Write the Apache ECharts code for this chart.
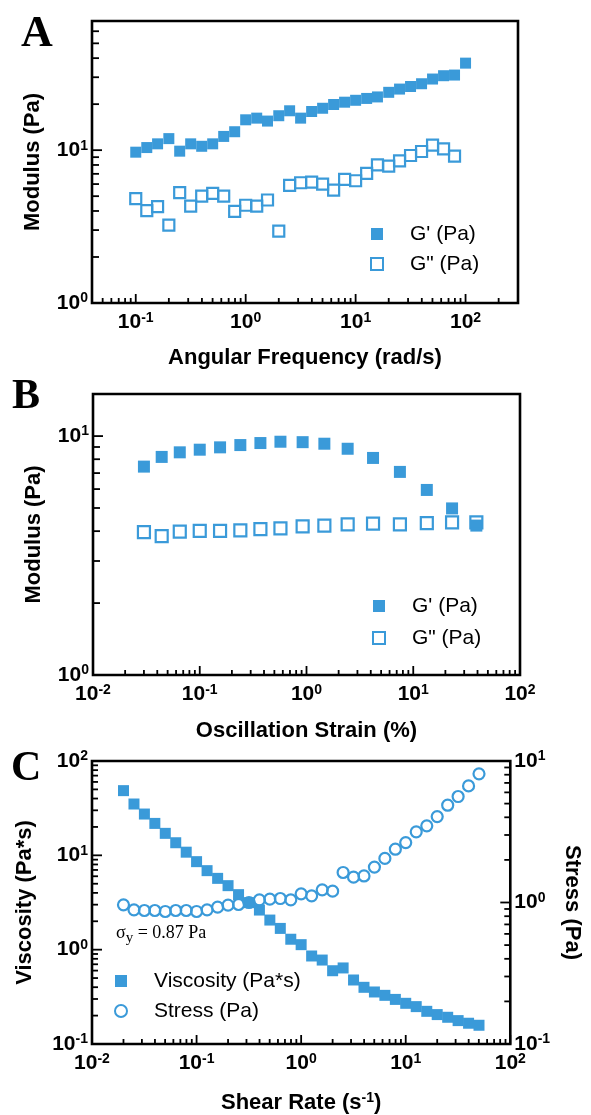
<!DOCTYPE html>
<html><head><meta charset="utf-8">
<script src="https://cdn.jsdelivr.net/npm/echarts@6/dist/echarts.min.js"></script>
<style>html,body{margin:0;padding:0;background:#fff}#c{width:591px;height:1115px}</style>
</head><body><div id="c"></div>
<script>
// ---------- DATA ----------
// Panel A: frequency sweep
const freqA = [0.1,0.126,0.158,0.2,0.251,0.316,0.398,0.501,0.631,0.794,1.0,1.26,1.58,2.0,2.51,3.16,3.98,5.01,6.31,7.94,10.0,12.6,15.8,20.0,25.1,31.6,39.8,50.1,63.1,79.4,100];
const gPrimeA = [9.7,10.4,11.0,11.9,9.85,11.0,10.6,11.0,12.3,13.2,15.8,16.2,15.5,16.8,18.1,16.2,17.9,18.8,19.9,20.6,21.2,21.8,22.3,23.9,25.1,26.1,27.2,29.2,30.7,31.0,37.1];
const gDoubleA = [4.82,4.02,4.27,3.23,5.27,4.31,5.01,5.22,5.01,3.98,4.36,4.31,4.72,2.95,5.89,6.12,6.18,6.0,5.48,6.44,6.31,7.05,8.02,7.86,8.52,9.23,9.8,10.8,10.2,9.14];
// Panel B: strain sweep
const strainB = [0.03,0.044,0.065,0.1,0.155,0.24,0.37,0.57,0.92,1.47,2.43,4.2,7.5,13.4,23.1,39];
const gPrimeB = [7.45,8.18,8.55,8.77,8.97,9.17,9.35,9.47,9.43,9.29,8.85,8.1,7.08,5.95,4.98,4.22];
const gDoubleB = [3.96,3.81,3.98,4.01,4.01,4.03,4.08,4.11,4.19,4.22,4.27,4.30,4.27,4.32,4.35,4.35];
// Panel C: flow sweep
const rateC = [0.02,0.0252,0.0317,0.0399,0.0502,0.0632,0.0796,0.1,0.126,0.159,0.2,0.252,0.317,0.399,0.502,0.632,0.796,1.0,1.26,1.59,2.0,2.52,3.17,3.99,5.02,6.32,7.96,10.0,12.6,15.9,20.0,25.2,31.7,39.9,50.2];
const viscC = [48.5,35.0,27.4,21.8,17.1,13.6,10.8,8.57,6.88,5.70,4.77,3.83,3.15,2.63,2.06,1.68,1.29,1.13,0.857,0.776,0.598,0.64,0.477,0.399,0.356,0.328,0.297,0.27,0.249,0.222,0.205,0.192,0.177,0.166,0.158];
const stressC = [0.963,0.888,0.878,0.878,0.864,0.878,0.878,0.864,0.888,0.927,0.957,0.968,1.0,1.044,1.056,1.067,1.044,1.151,1.115,1.229,1.202,1.63,1.51,1.54,1.78,2.05,2.38,2.65,3.16,3.48,4.05,4.87,5.61,6.67,8.11];
// Axis ranges
const xRangeA = [0.04, 300], yRangeA = [1, 70];
const xRangeB = [0.01, 100], yRangeB = [1, 15];
const xRangeC = [0.01, 100], yRangeC = [0.1, 100], y2RangeC = [0.1, 10];
// Texts
const panelLetters = ['A', 'B', 'C'];
const legendA = ["G' (Pa)", 'G" (Pa)'];
const legendC = ['Viscosity (Pa*s)', 'Stress (Pa)'];

// ---------- STYLE ----------
const FONT = "'Liberation Sans', Arial, Helvetica, sans-serif";
const SERIF = "'Liberation Serif', 'Times New Roman', serif";
const BLUE = '#3A9AD9';

function powLabel(v) {
  const e = Math.log10(v), r = Math.round(e);
  if (Math.abs(e - r) > 1e-6) return '';
  return '{b|10}{s|' + r + '}';
}
const richTick = {
  b: {fontFamily: FONT, fontWeight: 'bold', fontSize: 21, color: '#000'},
  s: {fontFamily: FONT, fontWeight: 'bold', fontSize: 14, color: '#000', padding: [0, 0, 9, 0]}
};
function decadeTicks(min, max) {
  const major = [], minor = [];
  for (let e = Math.floor(Math.log10(min)); e <= Math.ceil(Math.log10(max)); e++) {
    for (let k = 1; k < 10; k++) {
      const v = k * Math.pow(10, e);
      if (v < min * 0.9999 || v > max * 1.0001) continue;
      (k === 1 ? major : minor).push(v);
    }
  }
  return {major, minor};
}
function tickSeries(xi, yi, dir, edge, values, len) {
  return {
    type: 'custom', xAxisIndex: xi, yAxisIndex: yi, silent: true, clip: false, z: 5,
    data: values.map(v => dir === 'bottom' ? [v, edge] : [edge, v]),
    renderItem: (params, api) => {
      const p = api.coord([api.value(0), api.value(1)]);
      let x2 = p[0], y2 = p[1];
      if (dir === 'bottom') y2 -= len; else if (dir === 'left') x2 += len; else x2 -= len;
      return {type: 'line', shape: {x1: p[0], y1: p[1], x2: x2, y2: y2}, style: {stroke: '#000', lineWidth: 1.8}};
    }
  };
}
function axisTicks(xi, yi, dir, edge, range, majLen, minLen) {
  const t = decadeTicks(range[0], range[1]);
  return [tickSeries(xi, yi, dir, edge, t.major, majLen), tickSeries(xi, yi, dir, edge, t.minor, minLen)];
}
const TITLE = 22;
function xAxisDef(gi, range, name, gap) {
  return {
    type: 'log', logBase: 10, gridIndex: gi, min: range[0], max: range[1],
    axisLine: {show: false}, axisTick: {show: false}, splitLine: {show: false},
    axisLabel: {formatter: powLabel, rich: richTick, margin: 8, showMinLabel: true, showMaxLabel: true},
    name: name, nameLocation: 'middle', nameGap: gap,
    nameTextStyle: {fontFamily: FONT, fontWeight: 'bold', fontSize: TITLE, color: '#000',
      rich: {t: {fontFamily: FONT, fontWeight: 'bold', fontSize: TITLE, color: '#000'},
             s: {fontFamily: FONT, fontWeight: 'bold', fontSize: 14, color: '#000', padding: [0, 0, 10, 0]}}}
  };
}
function yAxisDef(gi, range, name, gap, pos) {
  return {
    type: 'log', logBase: 10, gridIndex: gi, min: range[0], max: range[1], position: pos || 'left',
    axisLine: {show: false}, axisTick: {show: false}, splitLine: {show: false},
    axisLabel: {formatter: powLabel, rich: richTick, margin: 4, showMinLabel: true, showMaxLabel: true},
    name: name, nameLocation: 'middle', nameGap: gap, nameRotate: pos === 'right' ? -90 : 90,
    nameTextStyle: {fontFamily: FONT, fontWeight: 'bold', fontSize: TITLE, color: '#000'}
  };
}
const filledSq = (name, xs, ys, xi, yi, size) => ({
  name: name, type: 'scatter', xAxisIndex: xi, yAxisIndex: yi, symbol: 'rect', symbolSize: size,
  data: xs.slice(0, ys.length).map((x, i) => [x, ys[i]]), itemStyle: {color: BLUE, opacity: 1}, z: 3
});
const openSq = (name, xs, ys, xi, yi, size) => ({
  name: name, type: 'scatter', xAxisIndex: xi, yAxisIndex: yi, symbol: 'rect', symbolSize: size,
  data: xs.slice(0, ys.length).map((x, i) => [x, ys[i]]),
  itemStyle: {color: 'rgba(255,255,255,0)', borderColor: BLUE, borderWidth: 2.2, opacity: 1}, z: 4
});

const gridA = {left: 92, top: 21, width: 426, height: 282};
const gridB = {left: 93, top: 394, width: 427, height: 281};
const gridC = {left: 92, top: 761, width: 426, height: 283};
const gridStyle = {show: true, borderColor: '#000', borderWidth: 2.6, backgroundColor: 'transparent'};

const legendText = {fontFamily: FONT, fontSize: 21, color: '#000', padding: [0, 0, 0, 22], lineHeight: 24};

const option = {
  animation: false,
  backgroundColor: '#fff',
  grid: [Object.assign({}, gridA, gridStyle), Object.assign({}, gridB, gridStyle), Object.assign({}, gridC, gridStyle)],
  xAxis: [
    xAxisDef(0, xRangeA, 'Angular Frequency (rad/s)', 44),
    xAxisDef(1, xRangeB, 'Oscillation Strain (%)', 45),
    xAxisDef(2, xRangeC, '{t|Shear Rate (s}{s|-1}{t|)}', 47)
  ],
  yAxis: [
    yAxisDef(0, yRangeA, 'Modulus (Pa)', 48),
    yAxisDef(1, yRangeB, 'Modulus (Pa)', 48),
    yAxisDef(2, yRangeC, 'Viscosity (Pa*s)', 56),
    yAxisDef(2, y2RangeC, 'Stress (Pa)', 48, 'right')
  ],
  legend: [
    {data: [legendA[0], legendA[1]], orient: 'vertical', left: 365, top: 217, itemWidth: 12, itemHeight: 12, itemGap: 6, textStyle: legendText, selectedMode: false},
    {data: [legendA[0], legendA[1]], orient: 'vertical', left: 367, top: 589, itemWidth: 12, itemHeight: 12, itemGap: 8, textStyle: legendText, selectedMode: false},
    {data: [legendC[0], legendC[1]], orient: 'vertical', left: 109, top: 964, itemWidth: 12, itemHeight: 12, itemGap: 6, textStyle: legendText, selectedMode: false}
  ],
  graphic: [
    {type: 'text', left: 21, top: 13, style: {text: panelLetters[0], font: "bold 44px " + SERIF, fill: '#000'}},
    {type: 'text', left: 12, top: 376, style: {text: panelLetters[1], font: "bold 42px " + SERIF, fill: '#000'}},
    {type: 'text', left: 11, top: 748, style: {text: panelLetters[2], font: "bold 42px " + SERIF, fill: '#000'}},
    {type: 'text', left: 116, top: 924, style: {text: '{t|σ}{u|y}{t| = 0.87 Pa}',
      rich: {t: {fontFamily: SERIF, fontSize: 18, fill: '#000', color: '#000'},
             u: {fontFamily: SERIF, fontSize: 15, fill: '#000', color: '#000', padding: [10, 0, 0, 0]}}}}
  ],
  series: [
    filledSq(legendA[0], freqA, gPrimeA, 0, 0, 11),
    openSq(legendA[1], freqA, gDoubleA, 0, 0, 11),
    filledSq(legendA[0], strainB, gPrimeB, 1, 1, 12),
    openSq(legendA[1], strainB, gDoubleB, 1, 1, 12),
    filledSq(legendC[0], rateC, viscC, 2, 2, 11),
    {name: legendC[1], type: 'scatter', xAxisIndex: 2, yAxisIndex: 3, symbol: 'circle', symbolSize: 11,
      data: rateC.map((x, i) => [x, stressC[i]]),
      itemStyle: {color: 'rgba(255,255,255,0)', borderColor: BLUE, borderWidth: 2.2, opacity: 1}, z: 4},
    ...axisTicks(0, 0, 'bottom', yRangeA[0], xRangeA, 9, 5),
    ...axisTicks(0, 0, 'left', xRangeA[0], yRangeA, 10, 7),
    ...axisTicks(1, 1, 'bottom', yRangeB[0], xRangeB, 9, 5),
    ...axisTicks(1, 1, 'left', xRangeB[0], yRangeB, 10, 7),
    ...axisTicks(2, 2, 'bottom', yRangeC[0], xRangeC, 9, 5),
    ...axisTicks(2, 2, 'left', xRangeC[0], yRangeC, 10, 6),
    ...axisTicks(2, 3, 'right', xRangeC[1], y2RangeC, 10, 6)
  ]
};
const chart = echarts.init(document.getElementById('c'), null, {renderer: 'canvas'});
chart.setOption(option);
</script>
</body></html>
